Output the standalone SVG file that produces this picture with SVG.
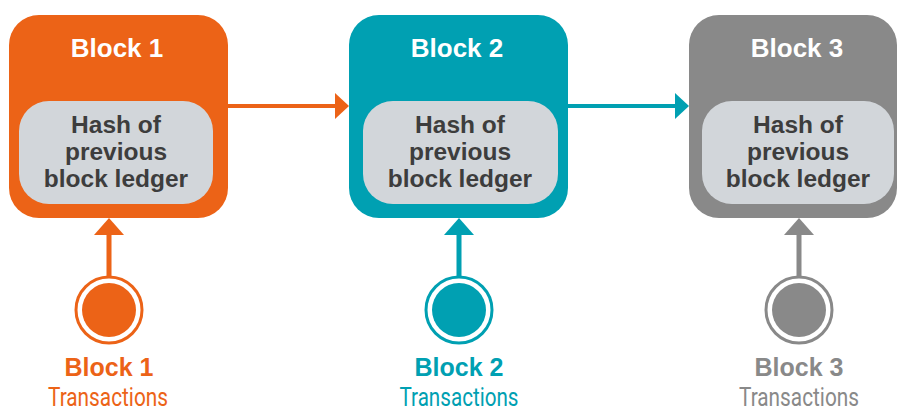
<svg xmlns="http://www.w3.org/2000/svg" width="897" height="412" viewBox="0 0 897 412">
  <style>
    .title { font-family: "Liberation Sans", Arial, sans-serif; font-weight: bold; font-size: 26px; fill: #ffffff; text-anchor: middle; }
    .hash { font-family: "Liberation Sans", Arial, sans-serif; font-weight: bold; font-size: 24.5px; fill: #3d3d3d; text-anchor: middle; }
    .inner { fill: #d2d6da; }
    .lbl { font-family: "Liberation Sans", Arial, sans-serif; font-weight: bold; font-size: 25px; text-anchor: middle; }
    .tx { font-family: Roboto, "Liberation Sans", sans-serif; font-size: 25px; text-anchor: middle; }
    .orange { fill: #ec6317; }
    .teal { fill: #00a0b2; }
    .gray { fill: #898989; }
  </style>

  <!-- Block chain nodes -->
  <g id="block1">
    <rect x="9" y="15" width="219" height="203" rx="30" class="orange"/>
    <text x="117" y="57" class="title">Block 1</text>
    <rect x="19" y="101" width="194" height="103" rx="30" class="inner"/>
    <text x="116" y="133" class="hash">Hash of</text>
    <text x="116" y="160" class="hash">previous</text>
    <text x="116" y="187" class="hash">block ledger</text>
  </g>

  <g id="block2">
    <rect x="349" y="15" width="219" height="203" rx="30" class="teal"/>
    <text x="457" y="57" class="title">Block 2</text>
    <rect x="363" y="101" width="195" height="103" rx="30" class="inner"/>
    <text x="460" y="133" class="hash">Hash of</text>
    <text x="460" y="160" class="hash">previous</text>
    <text x="460" y="187" class="hash">block ledger</text>
  </g>

  <g id="block3">
    <rect x="689" y="15" width="208" height="203" rx="30" class="gray"/>
    <text x="797" y="57" class="title">Block 3</text>
    <rect x="702" y="101" width="192" height="103" rx="30" class="inner"/>
    <text x="798" y="133" class="hash">Hash of</text>
    <text x="798" y="160" class="hash">previous</text>
    <text x="798" y="187" class="hash">block ledger</text>
  </g>

  <!-- Transaction sources -->
  <g id="tx1">
    <circle cx="109" cy="310" r="33" fill="none" stroke="#ec6317" stroke-width="3"/>
    <circle cx="109" cy="310" r="27" class="orange"/>
    <text x="109" y="376" class="lbl orange">Block 1</text>
    <text x="108" y="406" class="tx orange" textLength="120" lengthAdjust="spacingAndGlyphs">Transactions</text>
  </g>

  <g id="tx2">
    <circle cx="459" cy="310" r="33" fill="none" stroke="#00a0b2" stroke-width="3"/>
    <circle cx="459" cy="310" r="27" class="teal"/>
    <text x="459" y="376" class="lbl teal">Block 2</text>
    <text x="459" y="406" class="tx teal" textLength="119" lengthAdjust="spacingAndGlyphs">Transactions</text>
  </g>

  <g id="tx3">
    <circle cx="799" cy="310" r="33" fill="none" stroke="#898989" stroke-width="3"/>
    <circle cx="799" cy="310" r="27" class="gray"/>
    <text x="799" y="376" class="lbl gray">Block 3</text>
    <text x="799" y="406" class="tx gray" textLength="120" lengthAdjust="spacingAndGlyphs">Transactions</text>
  </g>

  <!-- Connectors -->
  <g id="connectors">
    <!-- block to block links -->
    <rect x="228" y="104" width="108" height="4" class="orange"/>
    <polygon points="335,93 349,106 335,119" class="orange"/>
    <rect x="568" y="104" width="108" height="4" class="teal"/>
    <polygon points="675,93 689,106 675,119" class="teal"/>

    <!-- transactions feeding each block -->
    <rect x="106.5" y="233" width="5" height="44" class="orange"/>
    <polygon points="94,235 109,218 124,235" class="orange"/>
    <rect x="456.5" y="233" width="5" height="44" class="teal"/>
    <polygon points="444,235 459,218 474,235" class="teal"/>
    <rect x="796.5" y="233" width="5" height="44" class="gray"/>
    <polygon points="784,235 799,218 814,235" class="gray"/>
  </g>
</svg>
